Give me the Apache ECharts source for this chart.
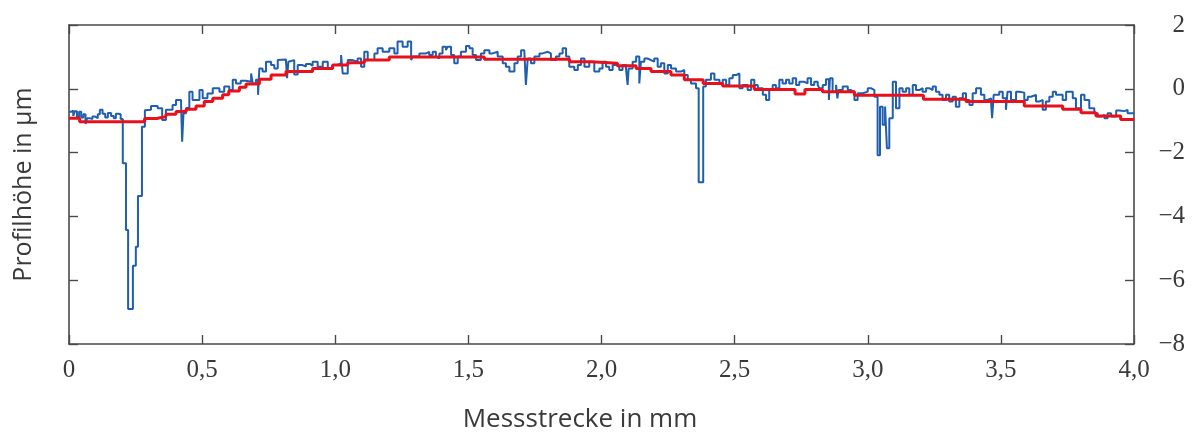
<!DOCTYPE html>
<html><head><meta charset="utf-8">
<script src="https://cdn.jsdelivr.net/npm/echarts@6/dist/echarts.min.js"></script>
<style>html,body{margin:0;padding:0;background:#fff}#c{width:1192px;height:432px}</style>
</head><body><div id="c"></div>
<script>
// Measured profile (blue), [x in mm, height in µm], step-wise
const profileBlue = [
[0.000,-0.72],[0.008,-0.68],[0.016,-0.85],[0.022,-0.70],[0.030,-0.88],[0.038,-0.72],[0.046,-0.90],[0.054,-0.80],[0.062,-1.10],[0.068,-0.92],
[0.078,-0.95],[0.088,-0.87],[0.098,-0.92],[0.108,-0.80],[0.116,-0.66],[0.126,-0.78],[0.136,-0.90],[0.146,-0.76],[0.158,-0.85],[0.168,-0.92],
[0.176,-0.78],[0.186,-0.80],[0.194,-0.95],[0.202,-2.33],[0.214,-4.43],[0.222,-6.90],[0.240,-5.55],[0.251,-4.95],[0.259,-3.36],[0.274,-1.19],
[0.285,-0.67],[0.289,-0.66],[0.308,-0.54],[0.333,-0.61],[0.350,-0.98],[0.364,-0.66],[0.389,-0.51],[0.402,-0.35],[0.421,-0.50],[0.425,-1.66],
[0.430,-0.77],[0.440,-0.60],[0.452,-0.09],[0.464,-0.35],[0.490,-0.04],[0.502,-0.30],[0.520,-0.15],[0.540,0.02],[0.565,-0.09],[0.583,0.07],
[0.602,-0.04],[0.615,0.28],[0.627,0.17],[0.645,0.25],
[0.665,0.22],[0.684,0.48],[0.690,0.17],[0.702,0.28],[0.710,-0.19],[0.715,0.64],[0.727,0.54],[0.740,0.85],[0.759,0.75],[0.771,0.64],
[0.784,0.90],[0.790,0.92],[0.815,0.85],[0.819,0.33],[0.824,0.85],[0.828,0.90],[0.846,0.45],[0.859,0.75],[0.875,0.70],[0.890,0.78],
[0.905,0.72],[0.915,0.85],[0.934,0.69],[0.953,0.85],[0.972,0.64],[0.990,0.75],[1.009,0.80],[1.022,1.06],[1.028,0.48],[1.047,0.90],
[1.065,0.85],[1.084,0.95],[1.097,0.69],[1.109,1.16],[1.122,0.90],[1.147,1.11],[1.159,1.27],[1.178,1.16],[1.203,1.27],[1.222,1.11],
[1.234,1.48],[1.253,1.32],[1.272,1.48],[1.285,0.90],[1.291,1.01],[1.316,1.11],
[1.341,1.16],[1.353,1.06],[1.366,1.16],[1.378,1.01],[1.385,0.95],[1.391,1.11],[1.403,1.32],[1.416,1.21],[1.422,1.32],[1.435,1.06],
[1.447,0.80],[1.460,1.01],[1.472,1.16],[1.491,1.34],[1.504,1.27],[1.516,1.06],[1.529,0.90],[1.547,1.11],[1.560,1.21],[1.579,1.11],
[1.591,1.16],[1.610,1.01],[1.629,0.80],[1.641,0.69],[1.654,0.54],[1.673,0.80],[1.685,1.01],[1.698,1.21],[1.710,1.27],[1.716,0.12],
[1.723,0.95],[1.735,0.80],[1.748,1.01],[1.767,1.11],[1.779,1.16],[1.798,1.11],[1.810,0.90],[1.829,1.01],[1.842,1.11],[1.854,1.27],
[1.867,1.01],[1.879,0.69],[1.898,0.59],[1.911,0.75],[1.923,0.95],[1.936,0.69],[1.954,0.85],[1.973,0.54],[1.992,0.64],[2.004,0.85],
[2.017,0.69],[2.029,0.59],[2.042,0.75],[2.054,0.69],[2.067,0.59],[2.079,0.75],[2.092,0.64],[2.098,0.12],[2.102,0.64],[2.117,0.85],
[2.130,1.01],[2.142,0.17],[2.148,0.85],[2.161,0.95],[2.173,0.90],[2.186,0.85],[2.198,0.95],[2.211,0.69],[2.223,0.80],[2.236,0.48],
[2.249,0.75],[2.261,0.64],[2.280,0.54],[2.299,0.59],[2.311,0.43],[2.324,0.28],[2.336,0.17],[2.355,0.02],[2.365,-2.93],[2.382,0.07],
[2.392,0.28],[2.411,0.48],[2.424,0.28],[2.443,0.17],[2.455,0.28],[2.468,0.12],[2.480,0.33],[2.493,0.43],[2.505,0.48],[2.518,0.02],
[2.530,0.12],[2.549,-0.04],[2.562,0.28],[2.574,0.12],[2.587,0.02],[2.606,-0.19],[2.618,-0.35],[2.630,-0.04],[2.643,0.12],[2.655,0.02],
[2.668,0.28],[2.680,0.17],
[2.693,0.28],[2.705,0.17],[2.718,0.33],[2.731,0.12],[2.743,0.22],[2.762,0.17],[2.774,0.33],[2.787,0.12],[2.799,0.22],[2.812,0.12],
[2.818,0.02],[2.831,0.12],[2.843,0.30],[2.854,-0.35],[2.858,0.33],[2.868,-0.09],[2.881,0.12],[2.886,-0.30],[2.890,-0.04],[2.906,0.07],
[2.925,-0.04],[2.937,-0.09],[2.950,-0.35],[2.962,-0.14],[2.981,-0.09],[3.000,0.02],[3.012,-0.04],[3.025,-0.25],[3.037,-2.08],[3.046,-0.56],
[3.056,-1.13],[3.065,-0.56],[3.072,-1.86],[3.081,-0.92],[3.094,0.22],[3.106,-0.61],[3.119,0.02],[3.131,-0.09],[3.144,0.02],[3.156,-0.19],
[3.169,0.12],[3.181,-0.04],[3.194,0.02],[3.206,-0.09],[3.219,0.02],[3.231,-0.04],[3.244,0.07],[3.256,-0.09],[3.269,-0.19],[3.281,-0.35],
[3.294,-0.19],[3.306,-0.40],[3.319,-0.25],[3.331,-0.56],[3.344,-0.30],[3.357,-0.14],
[3.369,-0.35],[3.382,-0.51],[3.394,-0.14],[3.407,0.02],[3.425,-0.19],[3.438,-0.35],[3.450,-0.30],[3.463,-0.40],[3.467,-0.92],[3.473,-0.19],
[3.494,-0.09],[3.507,-0.30],[3.519,-0.66],[3.525,-0.09],[3.538,-0.35],[3.557,-0.09],[3.569,-0.12],[3.588,-0.35],[3.601,-0.25],[3.613,-0.19],
[3.632,-0.40],[3.644,-0.35],[3.657,-0.66],[3.669,-0.40],[3.682,-0.25],[3.695,-0.09],[3.707,-0.19],[3.732,-0.35],[3.745,-0.09],[3.770,-0.30],
[3.782,-0.61],[3.801,-0.19],[3.814,-0.35],[3.832,-0.61],[3.851,-0.77],[3.864,-0.87],[3.876,-0.82],[3.889,-0.92],[3.901,-0.77],[3.914,-0.87],
[3.933,-0.68],[3.945,-0.70],[3.964,-0.66],[3.976,-0.77],[4.000,-0.77]
];

// Filtered profile (red), [x in mm, height in µm], step-wise
const filterRed = [
[0.000,-0.92],[0.040,-1.03],[0.284,-0.93],[0.330,-0.87],[0.364,-0.80],[0.402,-0.71],[0.440,-0.64],[0.477,-0.54],[0.508,-0.40],[0.540,-0.30],
[0.577,-0.19],[0.600,-0.07],[0.640,0.05],[0.665,0.15],[0.715,0.30],[0.759,0.43],[0.815,0.54],[0.915,0.64],[0.990,0.75],[1.047,0.82],
[1.109,0.90],[1.203,1.00],[1.560,0.93],[1.880,0.85],[1.960,0.80],[2.060,0.72],[2.130,0.64],[2.186,0.54],[2.261,0.43],[2.311,0.28],
[2.382,0.17],[2.455,0.09],[2.574,-0.02],[2.693,-0.02],[2.727,-0.16],[2.764,-0.02],[2.830,-0.09],[2.950,-0.20],[3.209,-0.33],[3.369,-0.40],
[3.588,-0.54],[3.732,-0.64],[3.801,-0.75],[3.857,-0.85],[3.950,-0.96],[4.000,-0.96]
];

const xTickLabels = ['0','0,5','1,0','1,5','2,0','2,5','3,0','3,5','4,0'];
const yTickLabels = ['\u22128','\u22126','\u22124','\u22122','0','2'];
const xName = 'Messstrecke in mm';
const yName = 'Profilhöhe in µm';

const axisColor = '#4a4a4a';
const textColor = '#3a3a3a';
const serif = '"Liberation Serif","DejaVu Serif",serif';
const sans = '"Open Sans","Noto Sans",sans-serif';

const tickStyle = {show: true, inside: true, length: 9, lineStyle: {color: axisColor, width: 1.4}};
const lineStyleAxis = {show: true, onZero: false, lineStyle: {color: axisColor, width: 1.6}};

const chart = echarts.init(document.getElementById('c'), null, {renderer: 'canvas'});
chart.setOption({
  animation: false,
  backgroundColor: '#ffffff',
  grid: {left: 69, right: 58, top: 25, bottom: 88, containLabel: false, outerBoundsMode: 'none'},
  xAxis: [{
    type: 'value', position: 'bottom', min: 0, max: 4, interval: 0.5,
    axisLine: lineStyleAxis, axisTick: tickStyle,
    axisLabel: {margin: 14, color: textColor, fontFamily: serif, fontSize: 25,
      formatter: v => xTickLabels[Math.round(v * 2)]},
    splitLine: {show: false},
    name: xName, nameLocation: 'middle', nameGap: 63,
    nameTextStyle: {fontFamily: sans, fontSize: 26, color: textColor, padding: [0, 43, 0, 0]}
  }, {
    type: 'value', position: 'top', min: 0, max: 4, interval: 0.5,
    axisLine: lineStyleAxis, axisTick: tickStyle,
    axisLabel: {show: false}, splitLine: {show: false}
  }],
  yAxis: [{
    type: 'value', position: 'right', min: -8, max: 2, interval: 2,
    axisLine: lineStyleAxis, axisTick: tickStyle,
    axisLabel: {margin: 51, align: 'right', color: textColor, fontFamily: serif, fontSize: 25,
      padding: [0, 0, 12, 0],
      formatter: v => yTickLabels[Math.round((v + 8) / 2)]},
    splitLine: {show: false}
  }, {
    type: 'value', position: 'left', min: -8, max: 2, interval: 2,
    axisLine: lineStyleAxis, axisTick: tickStyle,
    axisLabel: {show: false}, splitLine: {show: false},
    name: yName, nameLocation: 'middle', nameGap: 33, nameRotate: 90,
    nameTextStyle: {fontFamily: sans, fontSize: 25, color: textColor}
  }],
  series: [{
    name: 'Profil', type: 'line', step: 'end', xAxisIndex: 0, yAxisIndex: 0,
    data: profileBlue, showSymbol: false, symbol: 'none',
    lineStyle: {color: '#1f5fae', width: 2}, z: 2
  }, {
    name: 'Filter', type: 'line', step: 'end', xAxisIndex: 0, yAxisIndex: 0,
    data: filterRed, showSymbol: false, symbol: 'none',
    lineStyle: {color: '#e8101a', width: 3}, z: 3
  }]
});
</script>
</body></html>
